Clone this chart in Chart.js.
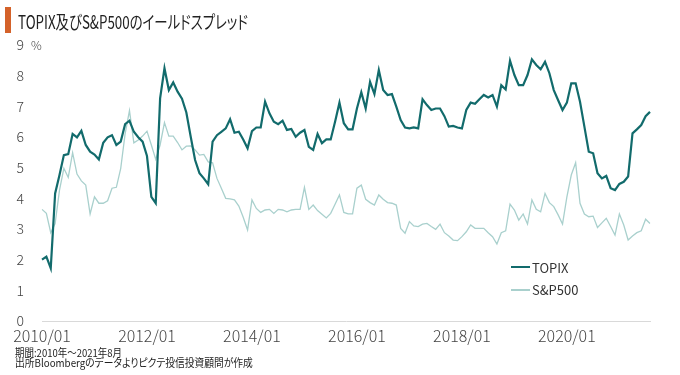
<!DOCTYPE html>
<html>
<head>
<meta charset="utf-8">
<script src="https://cdn.jsdelivr.net/npm/chart.js"></script>
<style>
  body { margin: 0; background: #fff; }
  #wrap { position: relative; width: 680px; height: 375px; overflow: hidden; font-family: "Noto Sans CJK JP", "Noto Sans", sans-serif; color: #222; }
  #wrap canvas { position: absolute; left: 0; top: 0; }
  .txt { position: absolute; white-space: nowrap; transform-origin: 0 50%; font-feature-settings: "palt"; }
  .bar { position: absolute; left: 5px; top: 7px; width: 6px; height: 26px; background: #d4622a; }
  .leg { position: absolute; left: 511px; width: 19px; }
</style>
</head>
<body>
<div id="wrap">
  <canvas id="chart" width="680" height="375"></canvas>
  <div class="bar"></div>
  <div class="txt fit" data-w="230" style="left:18px; top:12px; font-size:18px; line-height:18px;">TOPIX及びS&amp;P500のイールドスプレッド</div>
  <div class="txt" style="left:31px; top:38px; font-size:12px; line-height:14px; color:#444; font-weight:300;">%</div>
  <div class="leg" style="top:266px; height:2px; background:#126b6c;"></div>
  <div class="txt" style="left:532px; top:260px; font-size:13px; line-height:16px; color:#333;">TOPIX</div>
  <div class="leg" style="top:289px; height:1.5px; background:#a9d0cd;"></div>
  <div class="txt" style="left:532px; top:282px; font-size:13px; line-height:16px; color:#333;">S&amp;P500</div>
  <div class="txt fit" data-w="107" style="left:15px; top:346px; font-size:11px; line-height:12px; color:#222;">期間:2010年～2021年8月</div>
  <div class="txt fit" data-w="238" style="left:15px; top:356px; font-size:11px; line-height:12px; color:#222;">出所Bloombergのデータよりピクテ投信投資顧問が作成</div>
</div>
<script>
// monthly yield spread, 2010/01 - 2021/08 (%)
const topix = [
  2.0, 2.1, 1.72, 4.16, 4.76, 5.41, 5.44, 6.1, 5.99, 6.2, 5.74, 5.52,
  5.43, 5.27, 5.81, 5.99, 6.06, 5.74, 5.85, 6.42, 6.53, 6.17, 5.99, 5.85,
  5.38, 4.05, 3.84, 7.26, 8.24, 7.53, 7.78, 7.48, 7.25, 6.8, 6.01, 5.25,
  4.82, 4.65, 4.46, 5.85, 6.06, 6.17, 6.28, 6.58, 6.14, 6.17, 5.92, 5.63,
  6.19, 6.31, 6.31, 7.15, 6.77, 6.5, 6.42, 6.53, 6.23, 6.26, 6.01, 6.14,
  6.23, 5.68, 5.58, 6.1, 5.8, 5.92, 5.92, 6.5, 7.12, 6.45, 6.25, 6.25,
  6.93, 7.46, 6.93, 7.8, 7.4, 8.18, 7.53, 7.37, 7.4, 6.99, 6.55, 6.31,
  6.28, 6.31, 6.28, 7.23, 7.04, 6.88, 6.93, 6.93, 6.68, 6.34, 6.36, 6.31,
  6.28, 6.88, 7.12, 7.08, 7.23, 7.37, 7.29, 7.37, 6.99, 7.69, 7.55, 8.49,
  8.02, 7.69, 7.69, 8.02, 8.53, 8.35, 8.21, 8.45, 8.08, 7.53, 7.2, 6.88,
  7.12, 7.75, 7.75, 7.15, 6.34, 5.52, 5.47, 4.82, 4.65, 4.73, 4.33, 4.27,
  4.47, 4.54, 4.71, 6.12, 6.25, 6.39, 6.68, 6.82
];
const sp500 = [
  3.64, 3.51, 2.88, 3.18, 4.27, 4.98, 4.68, 5.49, 4.79, 4.57, 4.43, 3.49,
  4.05, 3.84, 3.84, 3.92, 4.33, 4.36, 4.98, 6.1, 6.86, 5.81, 5.9, 6.03,
  6.19, 5.74, 5.27, 5.74, 6.47, 6.03, 6.03, 5.82, 5.58, 5.7, 5.71, 5.58,
  5.41, 5.43, 5.19, 5.16, 4.65, 4.33, 4.0, 3.98, 3.95, 3.75, 3.38, 2.97,
  3.95, 3.67, 3.54, 3.62, 3.64, 3.51, 3.64, 3.62, 3.56, 3.62, 3.64, 3.64,
  4.36, 3.64, 3.78, 3.6, 3.48, 3.36, 3.51, 3.81, 4.11, 3.54, 3.49, 3.49,
  4.33, 4.43, 3.97, 3.86, 3.78, 4.11, 3.97, 3.86, 3.84, 3.78, 3.02, 2.86,
  3.24, 3.1, 3.08, 3.16, 3.18, 3.08, 2.99, 3.16, 2.88, 2.77, 2.64, 2.62,
  2.75, 2.91, 3.13, 3.02, 3.02, 3.02, 2.88, 2.75, 2.51, 2.88, 2.94, 3.81,
  3.62, 3.29, 3.49, 3.16, 3.95, 3.64, 3.56, 4.16, 3.86, 3.73, 3.46, 3.16,
  4.05, 4.76, 5.16, 3.84, 3.49, 3.4, 3.42, 3.05, 3.2, 3.35, 3.08, 2.8,
  3.49, 3.13, 2.64, 2.77, 2.88, 2.94, 3.32, 3.18
];
const tickLabels = ['2010/01', '2012/01', '2014/01', '2016/01', '2018/01', '2020/01'];

const months = [];
for (let i = 0; i < topix.length; i++) {
  const y = 2010 + Math.floor(i / 12);
  const m = (i % 12) + 1;
  months.push(y + '/' + (m < 10 ? '0' + m : m));
}

const tickFont = '"Noto Sans CJK JP", "Noto Sans", sans-serif';

// x labels drawn centred on their month through the x scale,
// so the first label doesn't push the plot area to the right
const xLabels = {
  id: 'xLabels',
  afterDraw(chart) {
    const { ctx, chartArea } = chart;
    const x = chart.scales.x;
    ctx.save();
    ctx.font = '300 16px ' + tickFont;
    ctx.fillStyle = '#444';
    ctx.textAlign = 'center';
    ctx.textBaseline = 'top';
    tickLabels.forEach(function (l) {
      ctx.fillText(l, x.getPixelForValue(months.indexOf(l)), chartArea.bottom + 7);
    });
    ctx.restore();
  }
};

new Chart(document.getElementById('chart'), {
  type: 'line',
  data: {
    labels: months,
    datasets: [
      {
        label: 'TOPIX',
        data: topix,
        borderColor: '#126b6c',
        borderWidth: 2.2,
        pointRadius: 0,
        tension: 0,
        fill: false,
      },
      {
        label: 'S&P500',
        data: sp500,
        borderColor: '#a9d0cd',
        borderWidth: 1.3,
        pointRadius: 0,
        tension: 0,
        fill: false,
      }
    ],
  },
  options: {
    responsive: false,
    animation: false,
    devicePixelRatio: 1,
    layout: {
      padding: { left: 16, right: 30, top: 45, bottom: 54 },
    },
    plugins: {
      legend: { display: false },
      tooltip: { enabled: false },
    },
    scales: {
      x: {
        offset: false,
        grid: { display: false, drawTicks: false },
        border: { display: true, color: '#d9d9d9', width: 1 },
        ticks: { display: false },
      },
      y: {
        min: 0,
        max: 9,
        grid: { display: false, drawTicks: false },
        border: { display: false },
        ticks: {
          stepSize: 1,
          padding: 18,
          color: '#444',
          font: { family: tickFont, size: 14, weight: '300' },
        },
        afterFit: function (scale) {
          scale.width = 26;
        },
      },
    },
  },
  plugins: [xLabels],
});

// squeeze condensed texts to the reference width
document.querySelectorAll('.fit').forEach(function (el) {
  const w = el.getBoundingClientRect().width;
  const target = parseFloat(el.dataset.w);
  el.style.transform = 'scaleX(' + (target / w).toFixed(3) + ')';
});
</script>
</body>
</html>
